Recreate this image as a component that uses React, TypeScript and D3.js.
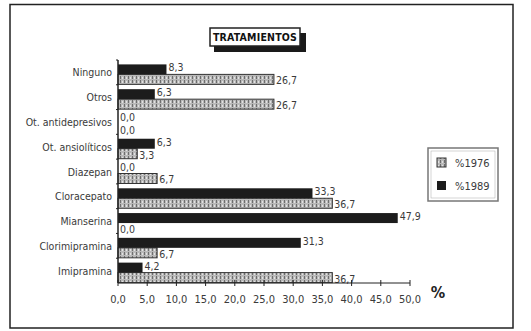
import React from "react";
import * as d3 from "d3";

const categories = [
  "Ninguno",
  "Otros",
  "Ot. antidepresivos",
  "Ot. ansiolíticos",
  "Diazepan",
  "Cloracepato",
  "Mianserina",
  "Clorimipramina",
  "Imipramina",
];
const series = ["%1989", "%1976"];
const values1989 = [8.3, 6.3, 0.0, 6.3, 0.0, 33.3, 47.9, 31.3, 4.2];
const values1976 = [26.7, 26.7, 0.0, 3.3, 6.7, 36.7, 0.0, 6.7, 36.7];
const tickValues = [0, 5, 10, 15, 20, 25, 30, 35, 40, 45, 50];

const W = 531;
const H = 331;
const FONT = "'DejaVu Sans Condensed', 'DejaVu Sans', sans-serif";

const fmt = (v: number) => d3.format(".1f")(v).replace(".", ",");

export default function App() {
  const x = d3.scaleLinear().domain([0, 50]).range([118, 410]);
  const y = d3.scaleBand<string>().domain(categories).range([60, 283]).paddingInner(0).paddingOuter(0);
  const inner = d3
    .scaleBand<string>()
    .domain(series)
    .range([4, y.bandwidth()])
    .paddingInner(0)
    .paddingOuter(0.04);

  const rows = categories.map((c, i) => ({ c, v89: values1989[i], v76: values1976[i] }));
  const axisY = 283;

  return (
    <div style={{ position: "fixed", left: 0, top: 0, width: W, height: H, background: "#fff" }}>
      <svg width={W} height={H} style={{ display: "block", fontFamily: FONT }}>
        <defs>
          <pattern id="hatch76" width="4" height="4" patternUnits="userSpaceOnUse">
            <rect width="4" height="4" fill="#b9b9b9" />
            <rect x="0" y="0" width="1" height="3" fill="#6e6e6e" />
            <rect x="2" y="1" width="1" height="2" fill="#e2e2e2" />
          </pattern>
        </defs>

        {/* outer frame */}
        <rect x={10} y={4.5} width={503} height={323.5} fill="none" stroke="#222" strokeWidth={1.5} />

        {/* title */}
        <rect x={214} y={33} width={92} height={19} fill="#1a1a1a" />
        <rect x={210} y={28} width={90} height={18} fill="#fff" stroke="#222" strokeWidth={1.5} />
        <text x={255} y={41} textAnchor="middle" fontSize={10.5} fontWeight="bold" fill="#111" letterSpacing={0.2}>
          TRATAMIENTOS
        </text>

        {/* bars */}
        {rows.map((r) => {
          const y0 = y(r.c)!;
          const yb89 = y0 + inner("%1989")!;
          const yb76 = y0 + inner("%1976")!;
          const h = inner.bandwidth();
          return (
            <g key={r.c}>
              <rect x={x(0)} y={yb76} width={x(r.v76) - x(0)} height={h} fill="url(#hatch76)" stroke="#333" strokeWidth={1} />
              <rect x={x(0)} y={yb89} width={x(r.v89) - x(0)} height={h} fill="#1c1c1c" />
              <text
                x={x(r.v89) + 2}
                y={yb89 + h / 2 + 2}
                fontSize={10.5}
                fill="#3a3a3a"
                stroke="#fff"
                strokeWidth={2}
                paintOrder="stroke"
              >
                {fmt(r.v89)}
              </text>
              <text
                x={x(r.v76) + 2}
                y={yb76 + h / 2 + 5}
                fontSize={10.5}
                fill="#3a3a3a"
                stroke="#fff"
                strokeWidth={2}
                paintOrder="stroke"
              >
                {fmt(r.v76)}
              </text>
              <text x={112} y={y0 + y.bandwidth() / 2 + 4} textAnchor="end" fontSize={10.5} fill="#3a3a3a">
                {r.c}
              </text>
            </g>
          );
        })}

        {/* y axis */}
        <line x1={x(0)} x2={x(0)} y1={60} y2={axisY} stroke="#222" strokeWidth={1.5} />
        {categories.map((c) => (
          <line key={c} x1={x(0) - 2} x2={x(0)} y1={y(c)!} y2={y(c)!} stroke="#222" />
        ))}

        {/* x axis */}
        <line x1={x(0)} x2={x(50)} y1={axisY} y2={axisY} stroke="#222" strokeWidth={1} />
        {tickValues.map((t) => (
          <g key={t}>
            <line x1={x(t)} x2={x(t)} y1={axisY - 3} y2={axisY + 3} stroke="#222" />
            <text x={x(t)} y={303} textAnchor="middle" fontSize={11} fill="#3a3a3a">
              {fmt(t)}
            </text>
          </g>
        ))}
        <text x={438} y={298} textAnchor="middle" fontSize={16} fontWeight="bold" fill="#222">
          %
        </text>

        {/* legend */}
        <rect x={428} y={148} width={70} height={53} fill="#fff" stroke="#777" strokeWidth={1.5} />
        <rect x={431} y={151} width={64} height={47} fill="none" stroke="#aaa" strokeWidth={0.5} />
        <rect x={437} y={158} width={9} height={9} fill="url(#hatch76)" stroke="#333" />
        <text x={455} y={167} fontSize={11} fill="#3a3a3a">%1976</text>
        <rect x={437} y={181} width={9} height={9} fill="#1c1c1c" />
        <text x={455} y={190} fontSize={11} fill="#3a3a3a">%1989</text>
      </svg>
    </div>
  );
}
